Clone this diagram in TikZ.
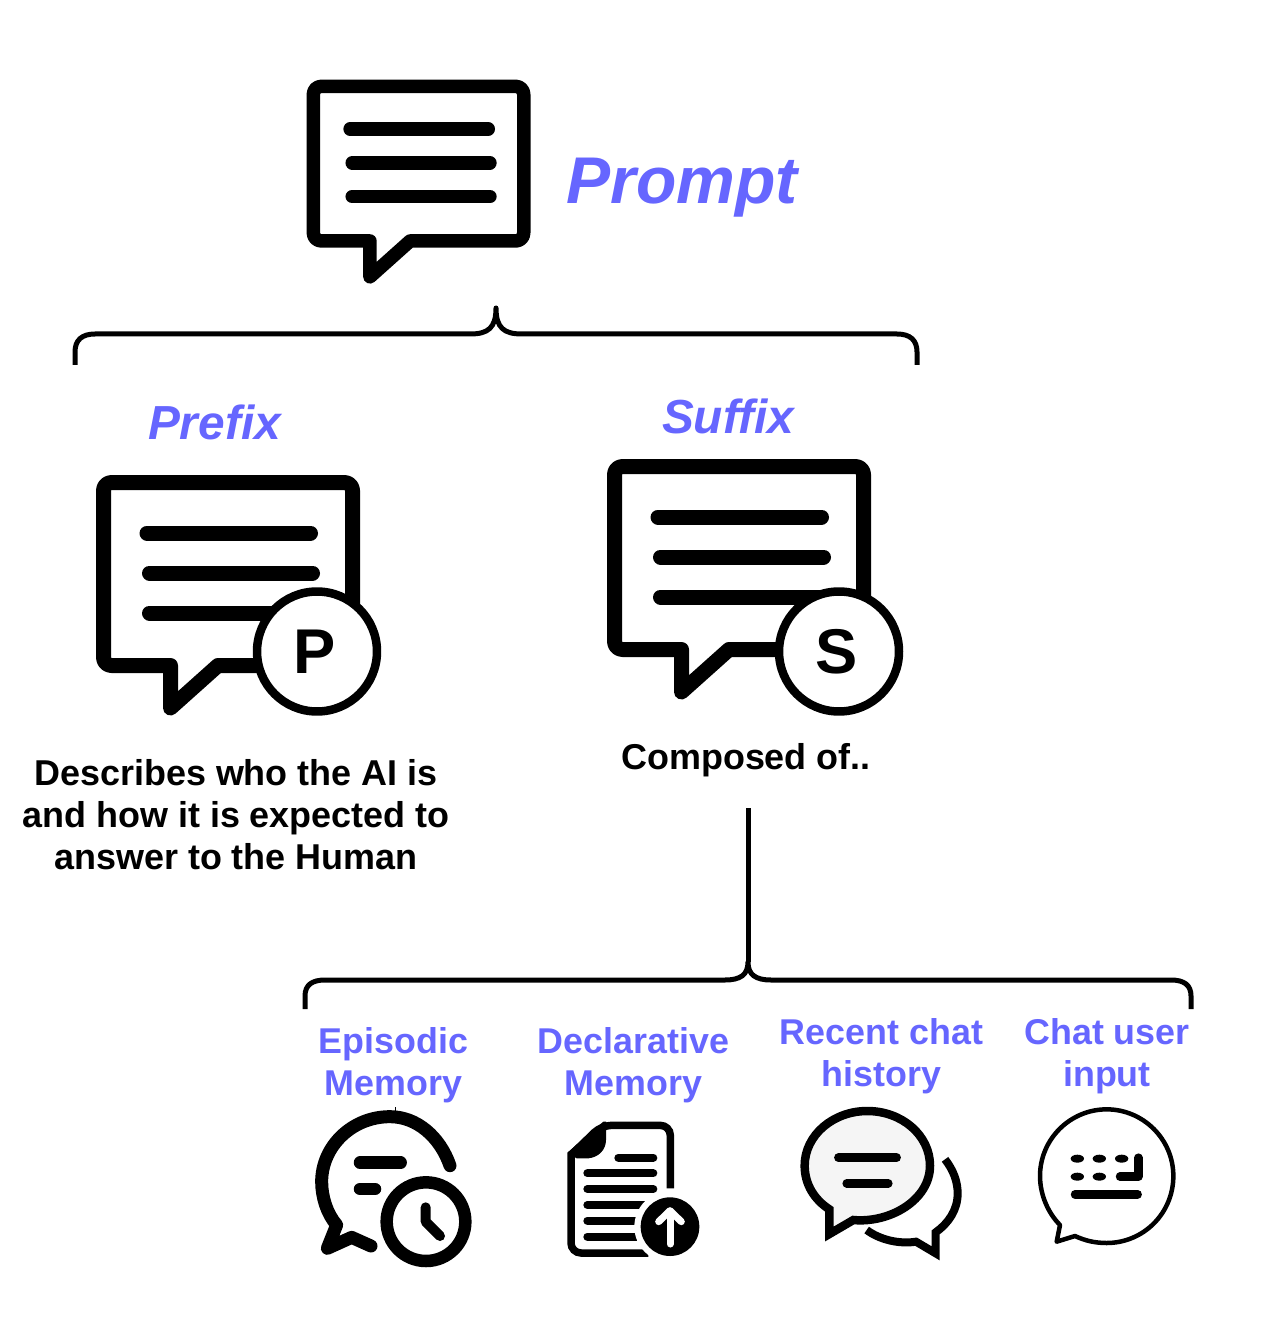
\documentclass[tikz,border=0pt]{standalone}
\usepackage{fontspec}
\setmainfont{Liberation Sans}
\usetikzlibrary{positioning,calc}
\definecolor{promptblue}{RGB}{102,102,255}
\tikzset{
	brace/.style={draw=black, line width=.1cm, line join=round},
	titletext/.style={text=promptblue, font=\bfseries\itshape\fontsize{37.6}{44}\selectfont, anchor=base},
	parttext/.style={text=promptblue, font=\bfseries\itshape\fontsize{27.2}{32}\selectfont, anchor=base},
	memtext/.style={text=promptblue, font=\bfseries\fontsize{20.4}{23.9}\selectfont, align=center, inner sep=0pt},
	desctext/.style={text=black, font=\bfseries\fontsize{20.45}{23.9}\selectfont, align=center, inner sep=0pt},
	badge/.style={circle, draw=black, fill=white, line width=.17cm, minimum size=2.4cm, inner sep=0pt, font=\bfseries\fontsize{36}{42}\selectfont},
	bar/.style={line cap=round, line width=#1},
	icon/.style={shift={(#1)}, scale=1/3}
}
% speech bubble with three text lines: left, top, scale, line width
\newcommand{\chatbubble}[4]{
	\begin{scope}[shift={(#1,#2)}, scale=#3]
		\draw[fill=white, line width=#4, line join=round] (100,7.5) [rounded corners=.16cm] -- (256.5,7.5) -- (256.5,190.5) [sharp corners] -- (122,190.5) -- (74.5,233) -- (74.5,190.5) [rounded corners=.16cm] -- (7.5,190.5) -- (7.5,7.5) -- cycle;
		\draw[bar=#4] (51,58) -- (214.5,58);\draw[bar=#4] (53.5,98) -- (216.5,98);\draw[bar=#4] (53.5,138) -- (216.5,138);
	\end{scope}
}
\begin{document}
\begin{tikzpicture}[x=.02cm, y=-.02cm]
	\useasboundingbox (0,0) rectangle (1273,1327);
	% top part
	\chatbubble{307}{80}{.845}{.27cm}
	\node[titletext] (prompt) at (682,204) {Prompt};
	\coordinate (prompttip) at (496,308);
	\draw[brace] (75,365) -- (75,352) .. controls (75,340) and (82,334) .. (95,334) -- (470,334) .. controls (488,334) and (496,328) .. (prompttip) .. controls (496,328) and (504,334) .. (522,334) -- (897,334) .. controls (910,334) and (917,340) .. (917,352) -- (917,365);
	% prefix and suffix
	\node[parttext] (prefix) at (214.5,439) {Prefix};
	\node[parttext] (suffix) at (728,433) {Suffix};
	\chatbubble{96}{475}{1}{.3cm}
	\chatbubble{607}{459}{1}{.3cm}
	\node[badge] (pbadge) at (317,651.5) {P\kern.08cm};
	\node[badge] (sbadge) at (839,651.5) {S\kern.08cm};
	\node[desctext] (prefixtext) at (236,815) {Describes who the AI is\\and how it is expected to\\answer to the Human};
	\node[desctext] (composed) at (746,760.5) {Composed of..};
	% lower brace
	\coordinate (stem) at (748,808);
	\coordinate (stemtip) at (748,962);
	\draw[line width=.1cm] (stem) -- (stemtip);
	\draw[brace] (305,1009) -- (305,996) .. controls (305,985) and (312,980) .. (325,980) -- (725,980) .. controls (740,980) and (748,975) .. (stemtip) .. controls (748,975) and (756,980) .. (771,980) -- (1171,980) .. controls (1184,980) and (1191,985) .. (1191,996) -- (1191,1009);
	\node[memtext] (episodic) at (393.5,1065.5) {Episodic\\Memory};
	\node[memtext] (declarative) at (633.5,1065.5) {Declarative\\Memory};
	\node[memtext] (recent) at (881.5,1056.5) {Recent chat\\history};
	\node[memtext] (chatuser) at (1107,1056.5) {Chat user\\input};
	% episodic memory icon
	\begin{scope}[icon={290,1000}]
		\draw[line width=.26cm, line cap=round, line join=round] (480,497) .. controls (450,410) and (380,350) .. (300,350) .. controls (185,350) and (95,440) .. (95,545) .. controls (95,590) and (110,640) .. (140,675) -- (112,745) -- (185,712) -- (243,738);
		\draw[line width=.02cm] (315,322) -- (315,340);
		\draw[bar=.25cm] (210,488) -- (332,488);\draw[bar=.25cm] (210,567) -- (255,567);
		\draw[line width=.25cm, fill=white] (408,665) circle[radius=118];
		\draw[bar=.2cm, line join=round] (407,622) -- (407,665) -- (450,708);
	\end{scope}
	% declarative memory icon
	\begin{scope}[icon={290,1000}]
		\draw[line width=.15cm] (1141,565) [rounded corners=.2cm] -- (1141,376) -- (935,376) [sharp corners] -- (843,465) [rounded corners=.2cm] -- (843,759) -- (1075,759);
		\fill (940,365) -- (832,458) -- (860,475) -- (895,475) .. controls (925,472) and (948,450) .. (948,420) -- (948,365) -- cycle;
		\draw[bar=.16cm] (985,473) -- (1090,473);\draw[bar=.16cm] (892,520) -- (1090,520);\draw[bar=.16cm] (892,567) -- (1090,567);
		\draw[bar=.16cm] (892,615) -- (1080,615);\draw[bar=.16cm] (892,662) -- (1060,662);\draw[bar=.16cm] (892,710) -- (1060,710);
		\fill[white] (1140,680) circle[radius=107];
		\fill (1140,680) circle[radius=88];
		\draw[bar=.14cm, draw=white, line join=round] (1140,732) -- (1140,645);\draw[bar=.14cm, draw=white, line join=round] (1106,665) -- (1140,632) -- (1174,665);
	\end{scope}
	% recent chat history icon
	\begin{scope}[icon={770,1000}]
		\draw[line width=.16cm] (525,478) .. controls (550,510) and (563,545) .. (563,580) .. controls (563,630) and (535,670) .. (497,697) -- (497,760) -- (438,725) .. controls (390,733) and (330,720) .. (290,690);
		\draw[line width=.17cm, fill=black!4] (250,660) .. controls (360,670) and (480,600) .. (480,497) .. controls (480,405) and (395,333) .. (292,333) .. controls (190,333) and (104,405) .. (104,497) .. controls (104,555) and (135,600) .. (178,628) -- (178,702) -- cycle;
		\draw[bar=.17cm] (205,473) -- (380,473);\draw[bar=.17cm] (230,550) -- (355,550);
	\end{scope}
	% chat user input icon
	\begin{scope}[icon={770,1000}]
		\draw[line width=.09cm, line join=round] (915,708) .. controls (945,722) and (975,729) .. (1010,729) .. controls (1120,729) and (1210,640) .. (1210,528) .. controls (1210,418) and (1120,328) .. (1010,328) .. controls (900,328) and (810,418) .. (810,528) .. controls (810,585) and (835,640) .. (870,675) -- (860,725) -- cycle;
		\foreach \keyx/\keyy in {922/476,988/476,1055/476,922/530,988/530} {\fill (\keyx,\keyy) ellipse[x radius=20, y radius=12];}
		\draw[bar=.17cm, line join=round] (1105,473) -- (1105,530) -- (1050,530);
		\draw[bar=.17cm] (915,583) -- (1103,583);
	\end{scope}
\end{tikzpicture}
\end{document}
